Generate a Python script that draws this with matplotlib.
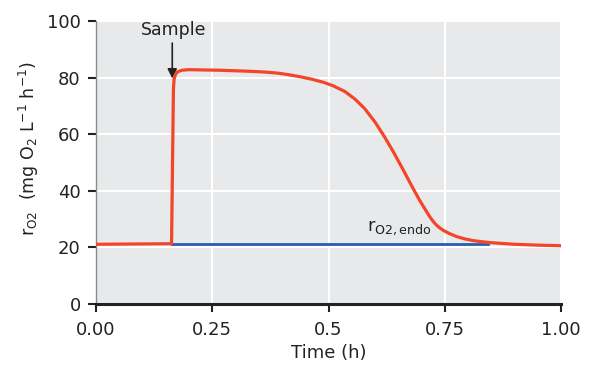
import matplotlib
matplotlib.use('agg')
import matplotlib.pyplot as plt

# respiration rate after the sample pulse (red) and endogenous baseline (blue)
time_h = [0.0, 0.08, 0.1625, 0.1665, 0.168, 0.171, 0.176, 0.185, 0.20, 0.23,
          0.267, 0.32, 0.36, 0.39, 0.415, 0.439, 0.465, 0.49, 0.51, 0.535,
          0.557, 0.578, 0.60, 0.62, 0.64, 0.66, 0.68, 0.695, 0.711, 0.718,
          0.725, 0.732, 0.740, 0.747, 0.76, 0.776, 0.793, 0.811, 0.83, 0.847,
          0.90, 0.95, 1.0]
r_o2 = [21.1, 21.2, 21.3, 76.0, 79.5, 81.2, 82.1, 82.6, 82.8, 82.7,
        82.6, 82.3, 82.0, 81.6, 81.0, 80.3, 79.4, 78.3, 77.1, 75.1,
        72.4, 69.0, 64.3, 59.2, 53.6, 47.6, 41.4, 36.9, 32.6, 30.8,
        29.2, 27.9, 26.8, 26.0, 24.9, 23.8, 23.0, 22.4, 22.0, 21.7,
        21.1, 20.8, 20.6]
endo_time = [0.1625, 0.842]
endo_rate = [21.1, 21.1]

xticks = [0.0, 0.25, 0.5, 0.75, 1.0]
xtick_labels = ["0.00", "0.25", "0.5", "0.75", "1.00"]
yticks = [0, 20, 40, 60, 80, 100]

plt.rcParams['font.family'] = ['DejaVu Sans']
plt.rcParams['mathtext.default'] = 'regular'

fig = plt.figure(figsize=(5.89, 3.73), dpi=100)
ax = fig.add_axes([96 / 589, 69 / 373, 465 / 589, 283 / 373])
ax.set_facecolor('#E8E9EB')

ax.plot(endo_time, endo_rate, color='#2860AE', lw=2, zorder=3)
ax.plot(time_h, r_o2, color='#F2452A', lw=2.3, zorder=4,
        solid_joinstyle='round')

ax.set_xlim(0, 1)
ax.set_ylim(0, 100)
ax.set_xticks(xticks)
ax.set_xticklabels(xtick_labels)
ax.set_yticks(yticks)
ax.grid(True, color='white', lw=1.5)
ax.set_axisbelow(True)

for side in ['top', 'right']:
    ax.spines[side].set_visible(False)
ax.spines['left'].set_color('#8A8A8A')
ax.spines['left'].set_linewidth(1)
ax.spines['bottom'].set_color('#222222')
ax.spines['bottom'].set_linewidth(2.2)
ax.tick_params(direction='out', length=6, width=1.5, color='#222222',
               labelsize=13, labelcolor='#222222')
ax.tick_params(axis='y', pad=5)
ax.tick_params(axis='x', pad=6)

ax.set_xlabel("Time (h)", fontsize=13, color='#222222', labelpad=4)
ax.set_ylabel(r"r$_{O2}$  (mg O$_2$ L$^{-1}$ h$^{-1}$)", fontsize=12.5,
              color='#222222', va='center')
ax.yaxis.set_label_coords(-0.144, 0.55)

# sample marker: label plus a straight down arrow
ax.text(0.168, 96.8, "Sample", ha='center', va='center', fontsize=12.5,
        color='#222222')
ax.annotate("", xy=(0.164, 79.7), xytext=(0.164, 92.2),
            arrowprops=dict(arrowstyle='-|>', color='#222222', lw=1.2,
                            mutation_scale=14, shrinkA=0, shrinkB=0))
ax.text(0.582, 25.9, r"r$_{O2,endo}$", fontsize=13, color='#222222',
        ha='left', va='baseline')

fig.savefig("out.png", dpi=100)
plt.close(fig)
